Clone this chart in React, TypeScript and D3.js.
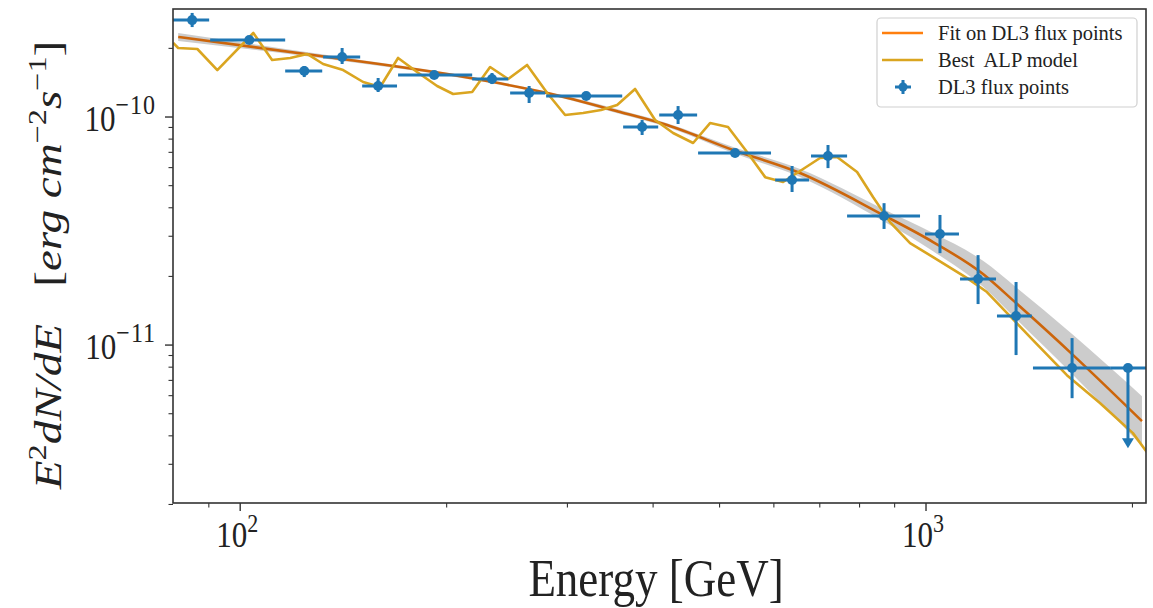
import * as d3 from 'd3';
import React from 'react';

// flux points (DL3): centre energy, bin edges [GeV], E2dN/dE and its errors [erg cm-2 s-1]
const pointEnergy = [85.1, 103.1, 124.0, 140.8, 158.9, 191.8, 232.9, 263.8, 319.5, 385.5, 435.0, 526.7, 637.8, 719.6, 868.6, 1048, 1191, 1353, 1633];
const pointEmin = [79.0, 90.4, 116.3, 132.1, 150.6, 169.9, 217.9, 247.5, 279.3, 361.7, 408.3, 465.2, 602.6, 679.7, 767.2, 996.6, 1121, 1269, 1432];
const pointEmax = [90.1, 116.3, 131.7, 149.6, 169.3, 217.9, 245.9, 278.4, 360.6, 406.9, 463.7, 594.3, 675.1, 767.2, 980.1, 1117, 1265, 1427, 1860];
const pointFlux = [2.66e-10, 2.177e-10, 1.591e-10, 1.833e-10, 1.368e-10, 1.528e-10, 1.468e-10, 1.274e-10, 1.236e-10, 9.04e-11, 1.02e-10, 6.95e-11, 5.29e-11, 6.75e-11, 3.68e-11, 3.07e-11, 1.948e-11, 1.341e-11, 7.93e-12];
const pointLo = [2.48e-10, 2.113e-10, 1.497e-10, 1.708e-10, 1.287e-10, 1.48e-10, 1.395e-10, 1.152e-10, 1.199e-10, 8.34e-11, 9.32e-11, 6.67e-11, 4.69e-11, 5.97e-11, 3.23e-11, 2.53e-11, 1.513e-11, 9.04e-12, 5.85e-12];
const pointHi = [2.86e-10, 2.244e-10, 1.673e-10, 2.007e-10, 1.483e-10, 1.576e-10, 1.56e-10, 1.368e-10, 1.274e-10, 9.7e-11, 1.117e-10, 7.24e-11, 6.1e-11, 7.54e-11, 4.19e-11, 3.72e-11, 2.48e-11, 1.89e-11, 1.073e-11];

// last bin: upper limit
const ulEnergy = 1970;
const ulEmin = 1860;
const ulEmax = 2110;
const ulFlux = 7.93e-12;
const ulArrowTo = 3.6e-12;

// fit on DL3 flux points, with its error band
const fitEnergy = [81.2, 130.8, 216.4, 280.3, 358.1, 419.3, 523.1, 655.1, 865.7, 1024, 1211, 1353, 1633, 2065];
const fitFlux = [2.244e-10, 1.852e-10, 1.483e-10, 1.274e-10, 1.052e-10, 9.22e-11, 7.17e-11, 5.68e-11, 3.72e-11, 2.83e-11, 2.05e-11, 1.528e-11, 9.13e-12, 4.64e-12];
const fitHi = [2.336e-10, 1.889e-10, 1.505e-10, 1.293e-10, 1.073e-10, 9.4e-11, 7.39e-11, 5.91e-11, 3.95e-11, 3.1e-11, 2.34e-11, 1.795e-11, 1.118e-11, 5.97e-12];
const fitLo = [2.156e-10, 1.816e-10, 1.461e-10, 1.255e-10, 1.031e-10, 9.04e-11, 6.95e-11, 5.46e-11, 3.5e-11, 2.58e-11, 1.8e-11, 1.3e-11, 7.46e-12, 3.61e-12];

// best ALP model
const alpEnergy = [79.85, 81.2, 86.6, 92.6, 104.5, 111.3, 118.3, 125.2, 132.1, 141.3, 151.1, 160.0, 169.9, 181.1, 193.7, 204.4, 217.9, 231.4, 245.9, 262.0, 280.3, 297.7, 316.2, 335.9, 354.5, 376.5, 402.7, 427.8, 457.5, 484.3, 514.4, 548.3, 582.7, 618.9, 655.1, 700.6, 741.8, 793.4, 837.0, 886.2, 947.8, 1024, 1148, 1227, 1313, 1432, 1605, 1793, 2003, 2100];
const alpFlux = [2.113e-10, 2.007e-10, 1.987e-10, 1.607e-10, 2.336e-10, 1.778e-10, 1.815e-10, 1.89e-10, 1.708e-10, 1.607e-10, 1.424e-10, 1.354e-10, 1.815e-10, 1.576e-10, 1.368e-10, 1.262e-10, 1.287e-10, 1.657e-10, 1.468e-10, 1.691e-10, 1.274e-10, 1.02e-10, 1.041e-10, 1.073e-10, 1.129e-10, 1.327e-10, 9.7e-11, 8.51e-11, 7.69e-11, 9.41e-11, 9.04e-11, 7.02e-11, 5.45e-11, 5.19e-11, 5.8e-11, 6.61e-11, 6.68e-11, 5.74e-11, 4.46e-11, 3.46e-11, 2.8e-11, 2.43e-11, 1.967e-11, 1.708e-11, 1.382e-11, 1.052e-11, 7.38e-12, 5.57e-12, 4.11e-12, 3.39e-12];

const xMajor = [100, 1000];
const xMinor = [90, 200, 300, 400, 500, 600, 700, 800, 900, 2000];
const yMajor = [1e-11, 1e-10];
const yMinor = [2e-12, 3e-12, 4e-12, 5e-12, 6e-12, 7e-12, 8e-12, 9e-12, 2e-11, 3e-11, 4e-11, 5e-11, 6e-11, 7e-11, 8e-11, 9e-11, 2e-10];

const legendItems = ['Fit on DL3 flux points', 'Best  ALP model', 'DL3 flux points'];

const BLUE = '#1f77b4';
const ORANGE = '#ff7f0e';
const GOLD = '#daa520';
const INK = '#222';
const FONT = '"Liberation Serif", "DejaVu Serif", serif';
// the figure is a little taller than wide, text glyphs look stretched vertically
const STRETCH = 1.16;

export default function App() {
  const W = 1153, H = 608;
  const m = { left: 173, right: 1146, top: 9, bottom: 503 };

  const x = d3.scaleLog().domain([79.8, 2093]).range([m.left, m.right]);
  const y = d3.scaleLog().domain([2.03e-12, 2.976e-10]).range([m.bottom, m.top]);

  const fitLine = d3.line<number>()
    .x((d, i) => x(fitEnergy[i]))
    .y(d => y(d))
    .curve(d3.curveMonotoneX);

  const band = d3.area<number>()
    .x((d, i) => x(fitEnergy[i]))
    .y0((d, i) => y(fitLo[i]))
    .y1(d => y(d))
    .curve(d3.curveMonotoneX);

  const alpLine = d3.line<number>()
    .x((d, i) => x(alpEnergy[i]))
    .y(d => y(d));

  const ulX = x(ulEnergy);
  const ulY0 = y(ulFlux);
  const ulY1 = y(ulArrowTo);

  return (
    <svg width={W} height={H} style={{ position: 'absolute', left: 0, top: 0, background: '#fff' }}
      fontFamily={FONT}>
      <defs>
        <clipPath id="plot-clip">
          <rect x={m.left} y={m.top} width={m.right - m.left} height={m.bottom - m.top} />
        </clipPath>
      </defs>

      <g clipPath="url(#plot-clip)">
        <path d={fitLine(fitFlux) || ''} fill="none" stroke={ORANGE} strokeWidth={2.6} />
        <path d={band(fitHi) || ''} fill="black" fillOpacity={0.2} stroke="none" />
        <path d={alpLine(alpFlux) || ''} fill="none" stroke={GOLD} strokeWidth={2.6} strokeLinejoin="round" />

        {pointEnergy.map((e, i) => (
          <g key={i} stroke={BLUE} strokeWidth={3}>
            <line x1={x(pointEmin[i])} x2={x(pointEmax[i])} y1={y(pointFlux[i])} y2={y(pointFlux[i])} />
            <line x1={x(e)} x2={x(e)} y1={y(pointLo[i])} y2={y(pointHi[i])} />
            <circle cx={x(e)} cy={y(pointFlux[i])} r={5} fill={BLUE} stroke="none" />
          </g>
        ))}

        {/* upper limit */}
        <g stroke={BLUE} strokeWidth={3}>
          <line x1={x(ulEmin)} x2={x(ulEmax)} y1={ulY0} y2={ulY0} />
          <line x1={ulX} x2={ulX} y1={ulY0} y2={ulY1 - 4} />
          <circle cx={ulX} cy={ulY0} r={5} fill={BLUE} stroke="none" />
          <path d={`M${ulX - 6},${ulY1 - 8}L${ulX + 6},${ulY1 - 8}L${ulX},${ulY1 + 2}Z`} fill={BLUE} stroke="none" />
        </g>
      </g>

      {/* frame */}
      <rect x={m.left} y={m.top} width={m.right - m.left} height={m.bottom - m.top}
        fill="none" stroke="#333" strokeWidth={1.6} />

      {/* x ticks */}
      {xMajor.map(t => (
        <g key={t}>
          <line x1={x(t)} x2={x(t)} y1={m.bottom} y2={m.bottom + 8} stroke="#333" strokeWidth={1.4} />
          <text transform={`translate(${x(t) - 3},547) scale(1,${STRETCH})`} fontSize={31} textAnchor="middle" fill={INK}>
            10<tspan dy={-13} fontSize={22}>{Math.log10(t)}</tspan>
          </text>
        </g>
      ))}
      {xMinor.map(t => (
        <line key={t} x1={x(t)} x2={x(t)} y1={m.bottom} y2={m.bottom + 4.5} stroke="#333" strokeWidth={1.1} />
      ))}

      {/* y ticks */}
      {yMajor.map(t => (
        <g key={t}>
          <line x1={m.left - 8} x2={m.left} y1={y(t)} y2={y(t)} stroke="#333" strokeWidth={1.4} />
          <text transform={`translate(156,${y(t) + 14}) scale(1,${STRETCH})`} fontSize={31} textAnchor="end" fill={INK}>
            10<tspan dy={-15} fontSize={24} letterSpacing={1}>{'\u2212' + Math.abs(Math.round(Math.log10(t)))}</tspan>
          </text>
        </g>
      ))}
      {yMinor.map(t => (
        <line key={t} x1={m.left - 4.5} x2={m.left} y1={y(t)} y2={y(t)} stroke="#333" strokeWidth={1.1} />
      ))}

      {/* axis labels */}
      <text transform={`translate(656,596) scale(1,${STRETCH})`} fontSize={45} textAnchor="middle" fill={INK}>Energy [GeV]</text>
      <text transform={`translate(61,265) rotate(-90) scale(1.24,1)`} fontSize={38} textAnchor="middle" fill={INK}>
        <tspan fontStyle="italic">E</tspan>
        <tspan dy={-15} fontSize={26}>2</tspan>
        <tspan dy={15} fontStyle="italic">dN/dE</tspan>
        <tspan dx={30}>[</tspan>
        <tspan fontStyle="italic">erg cm</tspan>
        <tspan dy={-15} fontSize={26}>{'\u22122'}</tspan>
        <tspan dy={15} fontStyle="italic">s</tspan>
        <tspan dy={-15} fontSize={26}>{'\u22121'}</tspan>
        <tspan dy={15}>]</tspan>
      </text>

      {/* legend */}
      <g>
        <rect x={877} y={18} width={260} height={89} rx={4} fill="#fff" fillOpacity={0.85}
          stroke="#d0d0d0" strokeWidth={1.2} />
        <line x1={882} x2={923} y1={33} y2={33} stroke={ORANGE} strokeWidth={2.6} />
        <line x1={882} x2={923} y1={60} y2={60} stroke={GOLD} strokeWidth={2.6} />
        <g stroke={BLUE} strokeWidth={3}>
          <line x1={895} x2={911} y1={87} y2={87} />
          <line x1={903} x2={903} y1={80} y2={94} />
          <circle cx={903} cy={87} r={4.5} fill={BLUE} stroke="none" />
        </g>
        {legendItems.map((t, i) => (
          <text key={t} x={938} y={40 + i * 27} fontSize={20.5} fill={INK} style={{ whiteSpace: 'pre' }}>{t}</text>
        ))}
      </g>
    </svg>
  );
}
